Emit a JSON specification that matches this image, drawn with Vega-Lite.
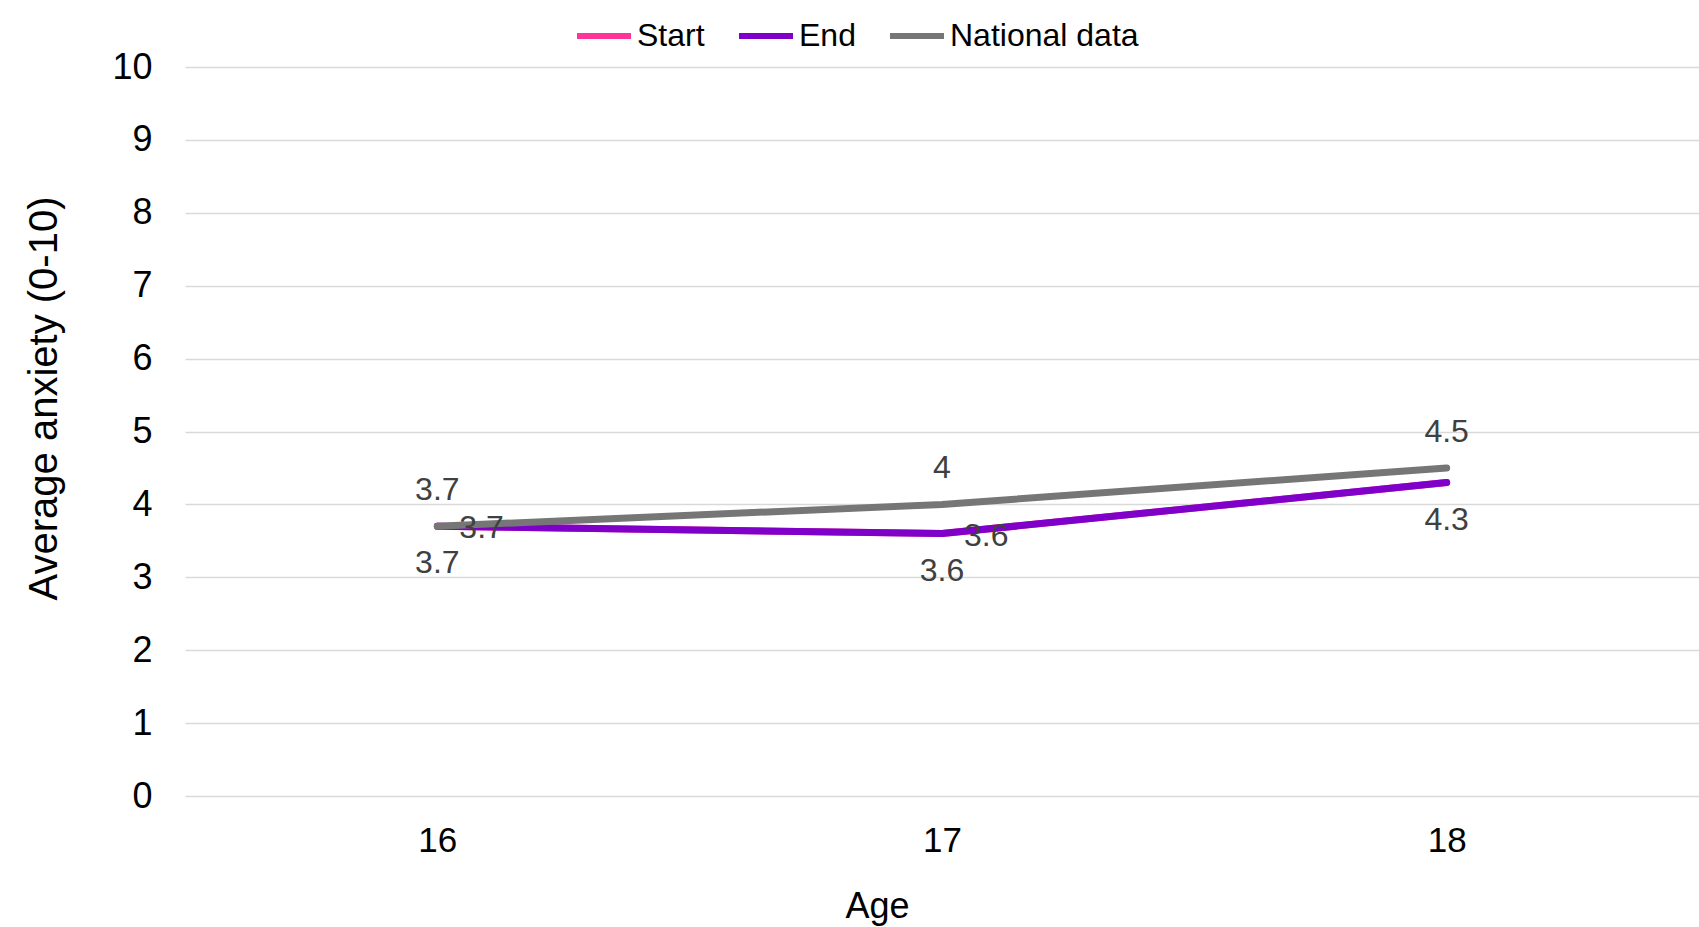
{
  "$schema": "https://vega.github.io/schema/vega-lite/v6.json",
  "width": 1514,
  "height": 729,
  "autosize": "none",
  "padding": {"left": 185, "top": 67, "right": 0, "bottom": 131},
  "background": "white",
  "config": {
    "font": "Liberation Sans",
    "view": {"stroke": null},
    "axis": {"labelFont": "Liberation Sans", "titleFont": "Liberation Sans", "labelColor": "#000000", "titleColor": "#000000", "titleFontWeight": "normal"}
  },
  "data": {
    "values": [
      {"age": 16, "series": "Start", "anxiety": 3.7},
      {"age": 17, "series": "Start", "anxiety": 3.6},
      {"age": 18, "series": "Start", "anxiety": 4.3},
      {"age": 16, "series": "End", "anxiety": 3.7},
      {"age": 17, "series": "End", "anxiety": 3.6},
      {"age": 18, "series": "End", "anxiety": 4.3},
      {"age": 16, "series": "National data", "anxiety": 3.7},
      {"age": 17, "series": "National data", "anxiety": 4.0},
      {"age": 18, "series": "National data", "anxiety": 4.5}
    ]
  },
  "encoding": {
    "x": {
      "field": "age", "type": "ordinal", "title": "Age",
      "scale": {"type": "point", "padding": 0.5},
      "axis": {"labelAngle": 0, "domain": false, "ticks": false, "grid": false, "labelFontSize": 35, "titleFontSize": 36, "labelPadding": 27, "titlePadding": 31, "titleX": 692}
    },
    "y": {
      "field": "anxiety", "type": "quantitative", "title": "Average anxiety (0-10)",
      "scale": {"domain": [0, 10], "nice": false},
      "axis": {"values": [0, 1, 2, 3, 4, 5, 6, 7, 8, 9, 10], "labelOverlap": false, "domain": false, "ticks": false, "gridColor": "#d9d9d9", "gridWidth": 1.5, "labelFontSize": 36, "titleFontSize": 40, "labelPadding": 33, "titlePadding": 47, "titleY": 331}
    }
  },
  "layer": [
    {
      "mark": {"type": "line", "strokeWidth": 7, "strokeCap": "round", "strokeJoin": "round"},
      "encoding": {
        "color": {
          "field": "series", "type": "nominal",
          "scale": {"domain": ["Start", "End", "National data"], "range": ["#ff3399", "#7f00c8", "#767676"]},
          "legend": {
            "title": null, "orient": "none", "direction": "horizontal",
            "legendX": 389, "legendY": -61,
            "symbolType": "stroke", "symbolSize": 2916, "symbolStrokeWidth": 6,
            "labelFontSize": 32, "labelColor": "#000000", "labelOffset": 3, "labelLimit": 400, "columnPadding": 22
          }
        },
        "order": {"field": "age"}
      }
    },
    {
      "transform": [{"filter": "datum.series === 'Start'"}],
      "mark": {"type": "text", "fontSize": 32, "color": "#404040", "dy": 37},
      "encoding": {"text": {"field": "anxiety", "type": "quantitative"}}
    },
    {
      "transform": [{"filter": "datum.series === 'End' && datum.age !== 18"}],
      "mark": {"type": "text", "fontSize": 32, "color": "#404040", "align": "left", "dx": 22, "dy": 2},
      "encoding": {"text": {"field": "anxiety", "type": "quantitative"}}
    },
    {
      "transform": [{"filter": "datum.series === 'National data'"}],
      "mark": {"type": "text", "fontSize": 32, "color": "#404040", "dy": -36},
      "encoding": {"text": {"field": "anxiety", "type": "quantitative"}}
    }
  ]
}
